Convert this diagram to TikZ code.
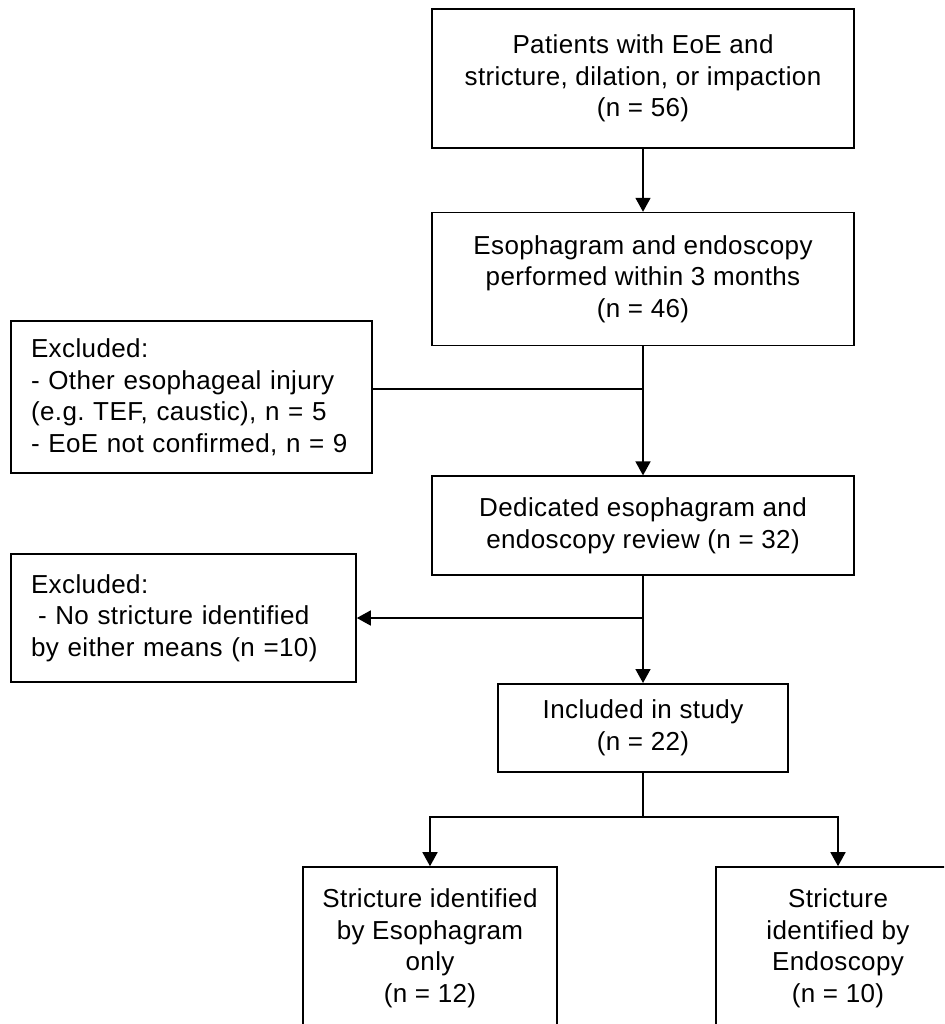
\documentclass[tikz,border=0pt]{standalone}
\usepackage{fontspec}
\setmainfont{Liberation Sans}[LetterSpace=1.5]
\usetikzlibrary{arrows.meta, positioning}

\begin{document}
\begin{tikzpicture}[
        x=1pt, y=-1pt, line width=1.6pt, >={Triangle[length=14pt, width=15pt]},
        every node/.style={font=\fontsize{26}{31.5}\selectfont},
        box/.style={draw, line width=1.6pt, inner sep=0pt, align=center},
        exbox/.style={draw, line width=1.6pt, inner xsep=20pt, inner ysep=0pt, align=left},
        ]
        \useasboundingbox (0,0) rectangle (944,1024);
        \clip (0,0) rectangle (944,1024);

        \node[box, minimum width=422pt, minimum height=139pt] (step_0) at (643,78.5)
            {Patients with EoE and\\stricture, dilation, or impaction\\(n = 56)};
        \node[box, minimum width=422pt, minimum height=133pt] (step_1) [below=63pt of step_0]
            {Esophagram and endoscopy\\performed within 3 months\\(n = 46)};
        \node[box, minimum width=422pt, minimum height=99pt] (review) [below=129pt of step_1]
            {Dedicated esophagram and\\endoscopy review (n = 32)};
        \node[box, minimum width=290pt, minimum height=88pt] (incl) [below=107pt of review]
            {Included in study\\(n = 22)};
        \node[exbox, text width=321pt, minimum height=152pt] (excl_1) at (191.5,397)
            {Excluded:\\- Other esophageal injury\\(e.g.\ TEF, caustic), n = 5\\- EoE not confirmed, n = 9};
        \node[exbox, text width=305pt, minimum height=128pt] (excl_2) at (183.5,618)
            {Excluded:\\\hspace*{7pt}- No stricture identified\\by either means (n =10)};
        \node[box, minimum width=254pt, minimum height=163pt] (out_1) at (430,948.5)
            {Stricture identified\\by Esophagram\\only\\(n = 12)};
        \node[box, minimum width=244pt, minimum height=163pt] (out_2) at (838,948.5)
            {Stricture\\identified by\\Endoscopy\\(n = 10)};

        \coordinate (j_1) at (step_1.south |- 0,389);
        \coordinate (j_2) at (review.south |- 0,618);
        \coordinate (j_3) at (incl.south |- 0,817);

        \path[->] (step_0) edge (step_1)
        (step_1) edge (review)
        (review) edge (incl)
        (j_2) edge (j_2 -| excl_2.east);
        \draw (excl_1.east |- j_1) -- (j_1);
        \draw (incl) -- (j_3);
        \draw[->] (j_3) -| (out_1);
        \draw[->] (j_3) -| (out_2);
      \end{tikzpicture}
\end{document}
